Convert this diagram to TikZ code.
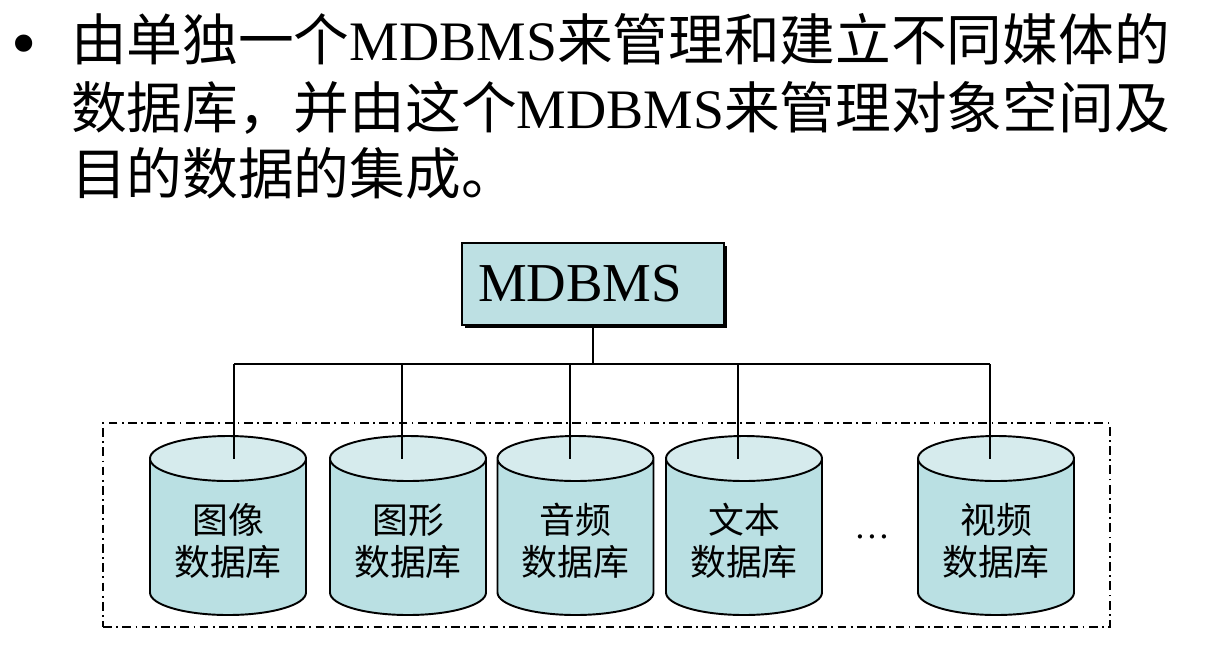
\documentclass[tikz,border=0pt]{standalone}
\usepackage{fontspec}
\setmainfont{Liberation Serif}
\newfontfamily\cjk{Noto Sans CJK SC}
\usepackage{tikz}
\usetikzlibrary{shapes.geometric,shadows}
\definecolor{dbbody}{RGB}{186,224,227}
\definecolor{dbtop}{RGB}{214,235,237}
\definecolor{boxfill}{RGB}{189,224,227}
\newcommand{\bigfont}{\fontsize{31.7}{37}\selectfont}

\begin{document}
\begin{tikzpicture}[
    line width=1.2pt,
    bodytext/.style={anchor=base west, inner sep=0pt, font=\bigfont},
    manager/.style={rectangle, draw, line width=1.1pt, fill=boxfill, minimum width=5.24cm, minimum height=1.64cm, text width=4.6cm, inner xsep=0.32cm, align=left, font=\fontsize{31.2}{37}\selectfont, drop shadow={shadow xshift=1.6pt, shadow yshift=-1.6pt, fill=black, opacity=1}},
    dbcyl/.style={cylinder, shape border rotate=90, draw, line width=1.1pt, inner xsep=1.5cm, inner ysep=0pt, aspect=0.3, minimum width=3.12cm, minimum height=3.58cm, anchor=shape center, cylinder uses custom fill, cylinder body fill=dbbody, cylinder end fill=dbtop},
    dbtext/.style={align=center, inner sep=0pt, font=\cjk\fontsize{20.4}{23.8}\selectfont},
    dashframe/.style={rectangle, draw, line width=1.1pt, dash pattern=on 5pt off 2.5pt on 1pt off 2.5pt, minimum width=20.14cm, minimum height=4.08cm}
]
    \useasboundingbox (0,0) rectangle (24.48,-12.98);
    \node[anchor=base, inner sep=0pt, font=\fontsize{41}{41}\selectfont] (bullet) at (0.49,-1.34) {•};
    \node[bodytext] (line1) at (1.40,-1.2) {{\cjk 由单独一个}MDBMS{\cjk 来管理和建立不同媒体的}};
    \node[bodytext] (line2) at (1.40,-2.56) {{\cjk 数据库，并由这个}MDBMS{\cjk 来管理对象空间及}};
    \node[bodytext] (line3) at (1.40,-3.88) {\cjk 目的数据的集成。};

    \node[manager] (mdbms) at (11.86,-5.68) {MDBMS};
    \node[dashframe] (media) at (12.13,-10.5) {};

    \foreach \i/\x/\t/\kind in {1/4.56/4.68/图像, 2/8.16/8.04/图形, 3/11.51/11.40/音频, 4/14.88/14.76/文本, 5/19.92/19.80/视频} {
        \node[dbcyl] (db\i) at (\x,-10.51) {};
        \node[dbtext] (lbl\i) at ([yshift=-0.31cm]db\i.shape center) {\kind\\数据库};
        \coordinate (tap\i) at (\t,-7.28);
        \draw (tap\i) -- (tap\i |- db\i.before top);
    }
    \node[anchor=base, inner sep=0pt, font=\fontsize{20.4}{24}\selectfont] (more) at (17.44,-10.76) {…};

    \draw (mdbms.south) -- (mdbms.south |- tap1);
    \draw (tap1) -- (tap5);
\end{tikzpicture}
\end{document}
